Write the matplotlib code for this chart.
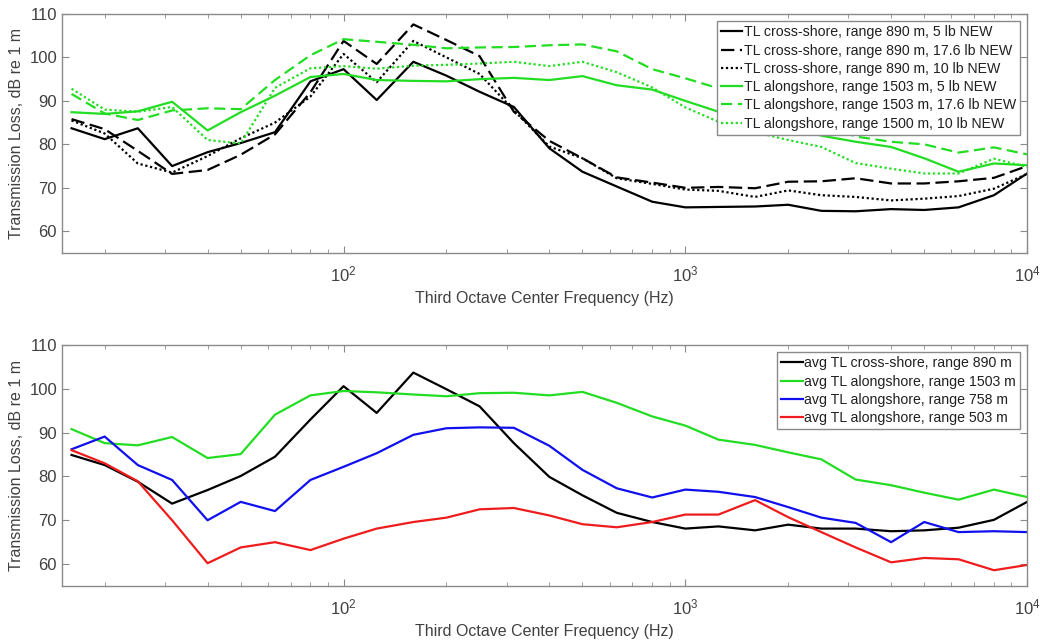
import numpy as np
import matplotlib
matplotlib.use("Agg")
import matplotlib.pyplot as plt
from matplotlib.ticker import LogLocator, NullFormatter

plt.rcParams['font.family'] = ['Liberation Sans', 'DejaVu Sans']
plt.rcParams['mathtext.fontset'] = 'custom'
plt.rcParams['mathtext.rm'] = 'Liberation Sans'

# Third octave centre frequencies (Hz)
freq = [16, 20, 25, 31.5, 40, 50, 63, 80, 100, 125, 160, 200, 250, 315, 400,
        500, 630, 800, 1000, 1250, 1600, 2000, 2500, 3150, 4000, 5000, 6300,
        8000, 10000]

# Top panel: individual shots
cross_5lb = [83.7, 81.2, 83.7, 75.0, 78.2, 80.3, 82.8, 94.5, 97.3, 90.2, 99.0,
             95.8, 92.1, 88.6, 79.1, 73.7, 70.3, 66.8, 65.5, 65.6, 65.7, 66.1,
             64.7, 64.6, 65.1, 64.9, 65.5, 68.3, 73.3]
cross_17lb = [85.8, 83.5, 78.5, 73.2, 74.1, 77.6, 82.3, 92.0, 103.8, 98.5,
              107.6, 104.0, 100.3, 87.5, 80.8, 76.8, 72.4, 71.2, 70.0, 70.2,
              69.9, 71.4, 71.5, 72.2, 71.0, 71.0, 71.5, 72.3, 75.0]
cross_10lb = [85.5, 82.5, 75.6, 73.5, 77.3, 81.4, 85.0, 91.0, 100.8, 94.3,
              103.8, 100.0, 96.2, 87.8, 79.5, 76.8, 72.2, 70.9, 69.6, 69.3,
              67.9, 69.4, 68.3, 67.9, 67.1, 67.5, 68.1, 69.8, 73.2]
along_5lb = [87.4, 87.0, 87.6, 89.8, 83.2, 87.4, 91.2, 95.5, 96.2, 94.8, 94.6,
             94.5, 95.0, 95.3, 94.8, 95.7, 93.6, 92.6, 90.0, 87.5, 86.0, 84.3,
             82.0, 80.6, 79.4, 76.8, 73.7, 75.6, 75.2]
along_17lb = [91.6, 87.1, 85.6, 87.8, 88.3, 88.1, 94.8, 100.5, 104.2, 103.6,
              102.9, 102.1, 102.3, 102.4, 102.8, 103.0, 101.4, 97.3, 95.2,
              92.9, 90.0, 87.3, 84.8, 81.8, 80.6, 80.0, 78.1, 79.3, 77.7]
along_10lb = [92.8, 88.0, 87.5, 88.6, 81.0, 80.2, 93.0, 97.5, 98.0, 97.4, 98.1,
              98.3, 98.6, 99.0, 98.0, 99.0, 96.6, 93.1, 88.5, 85.2, 82.8, 81.0,
              79.4, 75.7, 74.4, 73.3, 73.3, 76.7, 74.8]

# Bottom panel: averages
avg_cross_890 = [84.9, 82.6, 78.8, 73.8, 76.9, 80.1, 84.5, 93.0, 100.6, 94.5,
                 103.7, 99.9, 96.0, 87.6, 79.9, 75.7, 71.7, 69.6, 68.1, 68.6,
                 67.7, 69.0, 68.1, 68.1, 67.5, 67.7, 68.3, 70.1, 74.2]
avg_along_1503 = [90.8, 87.6, 87.1, 89.0, 84.2, 85.1, 94.1, 98.5, 99.5, 99.2,
                  98.7, 98.3, 99.0, 99.1, 98.5, 99.3, 96.8, 93.7, 91.6, 88.4,
                  87.2, 85.5, 83.9, 79.3, 78.0, 76.3, 74.7, 77.0, 75.3]
avg_along_758 = [86.2, 89.1, 82.6, 79.2, 70.0, 74.2, 72.1, 79.2, 82.2, 85.3,
                 89.5, 91.0, 91.2, 91.1, 87.0, 81.5, 77.3, 75.2, 77.0, 76.5,
                 75.3, 73.0, 70.6, 69.4, 65.0, 69.6, 67.3, 67.5, 67.3]
avg_along_503 = [86.0, 83.0, 78.9, 70.0, 60.2, 63.8, 65.0, 63.2, 65.8, 68.1,
                 69.6, 70.6, 72.5, 72.8, 71.1, 69.1, 68.4, 69.6, 71.3, 71.3,
                 74.6, 70.7, 67.3, 63.8, 60.4, 61.4, 61.1, 58.6, 59.8]

GREEN = '#22dd22'
TEXT = '#404040'
SPINE = '#8a8a8a'

fig = plt.figure(figsize=(10.4, 6.41), dpi=100)
ax1 = fig.add_axes([0.0596, 0.6053, 0.928, 0.3729])
ax2 = fig.add_axes([0.0596, 0.0858, 0.928, 0.3760])

lw = 1.6
ax1.plot(freq, cross_5lb, color='black', lw=lw, ls='-',
         label='TL cross-shore, range 890 m, 5 lb NEW')
ax1.plot(freq, cross_17lb, color='black', lw=lw, ls=(0, (6, 2.5)),
         label='TL cross-shore, range 890 m, 17.6 lb NEW')
ax1.plot(freq, cross_10lb, color='black', lw=lw, ls=(0, (1, 1.2)),
         label='TL cross-shore, range 890 m, 10 lb NEW')
ax1.plot(freq, along_5lb, color=GREEN, lw=lw, ls='-',
         label='TL alongshore, range 1503 m, 5 lb NEW')
ax1.plot(freq, along_17lb, color=GREEN, lw=lw, ls=(0, (5, 2.5)),
         label='TL alongshore, range 1503 m, 17.6 lb NEW')
ax1.plot(freq, along_10lb, color=GREEN, lw=lw, ls=(0, (1, 1.2)),
         label='TL alongshore, range 1500 m, 10 lb NEW')

ax2.plot(freq, avg_cross_890, color='black', lw=lw,
         label='avg TL cross-shore, range 890 m')
ax2.plot(freq, avg_along_1503, color=GREEN, lw=lw,
         label='avg TL alongshore, range 1503 m')
ax2.plot(freq, avg_along_758, color='#1010ee', lw=lw,
         label='avg TL alongshore, range 758 m')
ax2.plot(freq, avg_along_503, color='#ee1c1c', lw=lw,
         label='avg TL alongshore, range 503 m')

for ax in (ax1, ax2):
    ax.set_xscale('log')
    ax.set_xlim(15, 10000)
    ax.set_ylim(55, 110)
    ax.set_yticks([60, 70, 80, 90, 100, 110])
    ax.xaxis.set_minor_locator(LogLocator(base=10, subs=np.arange(2, 10)))
    ax.xaxis.set_minor_formatter(NullFormatter())
    ax.tick_params(which='both', direction='in', top=True, right=True,
                   colors=SPINE, labelcolor=TEXT, labelsize=12)
    ax.tick_params(axis='x', which='major', pad=8)
    ax.tick_params(which='major', length=5)
    ax.tick_params(which='minor', length=3)
    for s in ax.spines.values():
        s.set_color(SPINE)
        s.set_linewidth(1.0)
    ax.set_xlabel('Third Octave Center Frequency (Hz)', fontsize=11.5,
                  color=TEXT, labelpad=5)
    ax.set_ylabel('Transmission Loss, dB re 1 m', fontsize=11.5,
                  color=TEXT, labelpad=4)
    leg = ax.legend(loc='upper right', fontsize=10.2, handlelength=1.5,
                    handletextpad=0.1, labelspacing=0.3, borderpad=0.3,
                    fancybox=False, framealpha=1, borderaxespad=0.5)
    leg.get_frame().set_edgecolor(SPINE)
    leg.get_frame().set_linewidth(1.0)
    for t in leg.get_texts():
        t.set_color('#202020')

fig.savefig('out.png', dpi=100)
